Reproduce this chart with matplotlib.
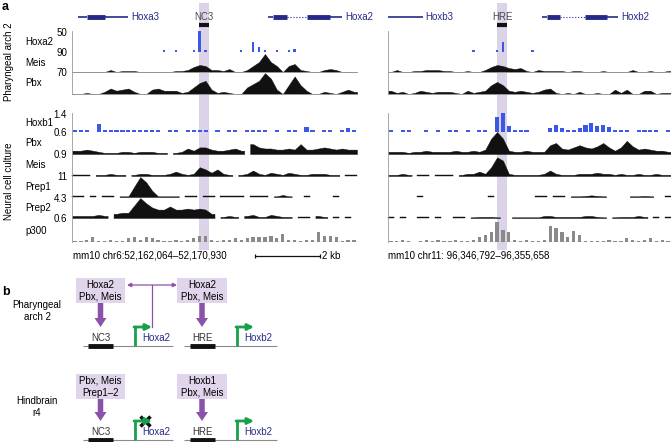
import numpy as np
import matplotlib.pyplot as plt
from matplotlib.patches import Rectangle, FancyArrow

plt.rcParams['font.family'] = ['Liberation Sans', 'DejaVu Sans']
plt.rcParams['font.size'] = 7

_ = None  # no data in this bin

# ---------------- data (48 bins per locus, signal in tenths of track height) ----
N_BINS = 48
region_bp = 8866

# pharyngeal arch 2, Hoxa2 locus (left) and Hoxb2 locus (right)
hoxa2_L = [_, _, _, _, _, _, _, _, _, _, _, _,
           _, _, _, 0.5, _, 0.5, _, _, 0.5, 10, 0.8, _,
           _, _, _, _, 0.5, _, 5, 2.5, 0.5, _, 0.5, _,
           0.5, 1.5, _, _, _, _, _, _, _, _, _, _]
hoxa2_R = [_, _, _, _, _, _, _, _, _, _, _, _,
           _, _, 0.5, _, _, _, 1, 5, _, _, _, _,
           0.3, _, _, _, _, _, _, _, _, _, _, _,
           _, _, _, _, _, _, _, _, _, _, _, _]
meis_pa_L = [0, 0, 0, 0, 0, 0, 1, 0, 0.5, 0.5, 0.5, 0,
             0, 0, 0, 0, 0, 0.5, 0.5, 1, 2.5, 3.5, 3, 1,
             1, 0.5, 1.5, 0, 0, 1, 3, 5, 9, 5, 3, 0,
             3, 4, 1, 0.5, 0, 0, 1, 1.5, 1, 0, 0, 0]
meis_pa_R = [0, 1, 0, 0, 0.5, 0.5, 1, 1, 1, 0.5, 0.5, 0,
             0, 0.5, 0, 0, 1, 2.5, 3.5, 3, 2, 1.5, 2, 0.5,
             0, 1, 0.5, 0.5, 0.5, 0.5, 0, 0.5, 0.5, 0, 0, 0,
             0.5, 0, 0, 0, 0, 1, 0, 0, 0.5, 0, 0, 0.5]
pbx_pa_L = [0, 0, 0.5, 0, 0, 1, 2.5, 1.5, 2, 2.5, 1, 0,
            0, 2, 2.5, 1.5, 1.5, 1.5, 0.5, 1, 3, 5, 6, 2,
            0.5, 1, 0.5, 0, 0, 3, 4.5, 6, 9.5, 7, 2, 0,
            4, 8, 4, 1.5, 0, 0, 1, 0.5, 0, 1, 2, 1]
pbx_pa_R = [1.5, 0.5, 1, 0, 0.5, 1.5, 1, 0.5, 1, 1, 1, 0.5,
            0, 1.5, 0.5, 1, 1.5, 4, 5.5, 4, 1.5, 1, 1.5, 1,
            0.5, 1, 2, 2.5, 0.5, 0, 0.5, 0, 1, 0, 0, 0.5,
            0, 0, 2, 0.5, 2, 0, 0, 1.5, 1.5, 0, 0.5, 0.5]

# neural cell culture
hoxb1_L = [0.5, 0.5, 0.5, _, 4, 1, 0.5, 0.5, 0.5, 0.3, 0.5, 0.5,
           1, 0.5, 0.5, _, 0.5, 0.5, _, 0.5, 0.5, 0.5, 0.5, _,
           0.5, _, 0.5, 0.5, _, 0.3, 0.5, 0.5, 1, _, 0.5, _,
           0.5, 0.5, _, 2.5, 0.5, _, 0.5, 0.5, _, 0.5, 2, 0.5]
hoxb1_R = [0.5, _, 1, 0.5, _, _, 0.5, _, 0.5, _, 0.5, 0.5,
           _, 0.5, _, 0.5, 0.5, _, 8, 10, 3, 0.5, 0.5, 0.5,
           _, _, _, 2, 3.5, 2, 0.5, 1, 2, 3.5, 4.5, 3,
           3.5, 2.5, 0.5, 0.5, 0.5, _, 0.5, 0.5, 0.5, 0.5, _, 0.5]
pbx_nc_L = [1.5, 1.5, 2, 1.5, 1, 0.5, 0.5, 0.5, 1, 1, 0.5, 1,
            1, 1, 0.5, 0.5, _, 0.5, 1, 2.5, 1.5, 3, 3, 2,
            1.5, 1.5, 2, 2.5, 1.5, _, 4.5, 3, 2.5, 2.5, 2, 2,
            2.5, 2, 4.5, 2, 2, 2.5, 3, 2.5, 2, 2.5, 2, 2]
pbx_nc_R = [1, 1, 1, 0.5, 1, 1, 1.5, 1, 1, 1, 1, 1.5,
            1, 1, 1.5, 1, 2, 7, 10, 7, 1.5, 1, 1, 1.5,
            1, 1, 1, 4, 5, 2.5, 2, 3, 4, 3, 2.5, 3.5,
            5, 3, 1.5, 3, 6, 3.5, 2, 2.5, 2, 1.5, 1.5, 1]
meis_nc_L = [0.5, 0.5, 0.5, _, 0.5, 0.5, 1, 0.5, 0.5, _, 0.5, 1,
             1, 0.5, 0.5, 0.5, 1, 2, 1, 0.5, 1, 4, 3, 1.5,
             3, 1, 0.5, _, 0.5, 1, 2.5, 1, 0.5, 1.5, 1, 0.5,
             1.5, 1, 0.5, 0.5, 1, 1, 1, 0.5, 0.5, _, 0.5, 0.5]
meis_nc_R = [0.5, 0.5, 1, 0.5, _, 0.5, 0.5, _, 0.5, 0.5, 0.5, _,
             0.5, 1, 1, 2, 1, 4, 8.5, 7, 1, 0.5, 0.5, 0.5,
             0.5, 0.5, 1, 2.5, 1, 0.5, 0.5, 0.5, 1, 1, 1, 1.5,
             1, 1, 0.5, 1, 0.5, 0.5, 1, 0.5, 0.5, 1, 0.5, 0.5]
prep1_L = [0.3, 0.3, _, 0.3, _, 0.3, 0.3, _, 0.3, 0.3, 5, 9.5,
           7, 3, 0.3, 0.3, 0.3, 0.3, _, 0.3, 0.3, _, 0.3, 0.3,
           _, 0.3, 0.3, 0.3, 0.3, _, 0.3, 0.3, 0.3, _, 0.3, 1,
           0.3, _, _, 0.3, _, _, _, _, 0.3, _, _, _]
prep1_R = [_, _, _, _, _, 0.3, _, _, _, _, _, _,
           _, _, _, _, _, 0.3, _, _, _, _, _, _,
           _, 0.3, 0.3, _, 0.3, 0.3, _, 0.3, 0.3, 0.5, 0.8, 0.5,
           0.3, _, _, _, _, 0.3, 0.3, 0.5, 0.3, _, _, 0.3]
prep2_L = [1, 1, 1, 1, 1.5, 1, _, 2, 2.5, 2.5, 6, 9.5,
           7, 5, 4, 4, 5.5, 4, 4, 4.5, 4, 4.5, 4, 2,
           _, 0.5, 1, 0.5, _, 1, 1.5, 0.5, 0.5, 1.5, 1, 0.5,
           0.5, _, 0.5, 0.5, _, 1, 0.5, _, 0.5, _, 0.5, _]
prep2_R = [0.3, _, 0.3, _, _, 0.3, 0.3, _, 0.3, _, _, 0.3,
           0.3, _, 0.3, 0.5, 0.5, 0.5, 0.3, _, _, 0.3, 0.3, 0.3,
           0.3, 0.3, 1, 1, 0.5, 0.5, 0.5, 0.5, 0.5, 1, 1, 0.5,
           0.3, _, 0.3, 0.5, 0.5, 0.5, 1, 0.5, _, 0.3, _, 0.3]
p300_L = [0.5, 0.5, 1, 2, 0.5, 0.3, 1, 0.5, 0.3, 1.5, 2, 1,
          2, 1.5, 1, 0.5, 0.3, 1, 0.5, 1, 1.5, 2.5, 2.5, 1,
          0.5, 1, 1, 1.5, 1, 1.5, 2, 2, 2, 2.5, 1.5, 3.5,
          1, 1, 0.5, 1, 1, 4, 2.5, 2.5, 2, 0.3, 1, 1]
p300_R = [0.5, 0.5, 1, 0.3, _, 0.5, 1, 0.5, 1, 0.5, 0.5, 1,
          0.5, 0.5, 1, 2, 3, 4, 8.5, 5, 4, 1, 0.5, 1,
          0.5, 0.5, 1, 6.5, 6, 4, 2, 4.5, 3, 0.5, 0.5, 0.5,
          0.5, 1, 0.5, 0.5, 1.5, 1, 0.5, 1, 1.5, 0.5, 1, 0.5]

# gene models and enhancers, in bins: (start, end, exons, name)
genes_L = [(1.0, 9.4, [(2.5, 5.6)], 'Hoxa3'),
           (33.0, 45.5, [(33.8, 36.2), (39.6, 43.4)], 'Hoxa2')]
genes_R = [(0.0, 5.9, [], 'Hoxb3'),
           (26.1, 39.0, [(26.9, 29.2), (33.4, 37.1)], 'Hoxb2')]
element_L = (21.4, 23.1, 'NC3')
element_R = (18.5, 20.2, 'HRE')
coords_L = 'mm10 chr6:52,162,064\u201352,170,930'
coords_R = 'mm10 chr11: 96,346,792\u201396,355,658'

# ---------------- styles ----------------
BLUE = '#3b57e8'
BLACK = '#111111'
GREY = '#8a8a8a'
NAVY = '#262a86'
BAND = '#ddd3e8'
BOX = '#e0d5ea'
PURPLE = '#8c52a8'
GREEN = '#17a04a'

W, H = 671, 442
fig = plt.figure(figsize=(W / 100, H / 100), dpi=100)


def px_axes(x0, y0, x1, y1):
    ax = fig.add_axes([x0 / W, 1 - y1 / H, (x1 - x0) / W, (y1 - y0) / H])
    ax.set_facecolor('none')
    return ax


def runs(vals):
    # split the bins into stretches of consecutive bins that have data
    out, cur = [], []
    for i, v in enumerate(vals):
        if v is None:
            if cur:
                out.append(cur)
            cur = []
        else:
            cur.append(i)
    if cur:
        out.append(cur)
    return out


canvas = px_axes(0, 0, W, H)
canvas.set_xlim(0, W)
canvas.set_ylim(H, 0)
canvas.axis('off')

panels = [(72, 357, 'L'), (388, 671, 'R')]
elements = {'L': element_L, 'R': element_R}
genes = {'L': genes_L, 'R': genes_R}

# highlight band behind every track
for x0, x1, side in panels:
    bax = px_axes(x0, 3, x1, 250)
    bax.set_xlim(0, N_BINS)
    bax.axvspan(elements[side][0], elements[side][1], color=BAND, lw=0)
    bax.axis('off')

# gene track
for x0, x1, side in panels:
    gax = px_axes(x0, 8, x1, 30)
    gax.set_xlim(0, N_BINS)
    gax.set_ylim(30, 8)
    gax.axis('off')
    for start, end, exons, name in genes[side]:
        edges = [start] + [e for ex in exons for e in ex] + [end]
        for k in range(0, len(edges) - 1):
            a, b = edges[k], edges[k + 1]
            if k % 2 == 0:
                ls, lw = '-', 1.2
                if 0 < k < len(edges) - 2:
                    ls, lw = ':', 0.8
                gax.plot([a, b], [17, 17], color=NAVY, lw=lw, ls=ls,
                         solid_capstyle='butt')
            else:
                gax.plot([a, b], [17, 17], color=NAVY, lw=3.5,
                         solid_capstyle='butt')
        gax.text(end + 0.5, 17, name, color=NAVY, ha='left', va='center')
    es, ee, ename = elements[side]
    gax.plot([es, ee], [25, 25], color=BLACK, lw=3, solid_capstyle='butt')
    gax.text((es + ee) / 2, 17, ename, color='#4a4a4a', ha='center', va='center')

# signal tracks: name, max label, top, base, left, right, colour, style, baseline
tracks = [
    ('Hoxa2', '50', 31, 52, hoxa2_L, hoxa2_R, BLUE, 0.4, 'none'),
    ('Meis', '90', 52, 72, meis_pa_L, meis_pa_R, BLACK, 'fill', 'axis'),
    ('Pbx', '70', 72, 94, pbx_pa_L, pbx_pa_R, BLACK, 'fill', 'axis'),
    ('Hoxb1', '1.4', 113, 132, hoxb1_L, hoxb1_R, BLUE, 0.7, 'none'),
    ('Pbx', '0.6', 132, 154, pbx_nc_L, pbx_nc_R, BLACK, 'fill', 'seg'),
    ('Meis', '0.9', 154, 176, meis_nc_L, meis_nc_R, BLACK, 'fill', 'seg'),
    ('Prep1', '11', 176, 197, prep1_L, prep1_R, BLACK, 'fill', 'seg'),
    ('Prep2', '4.3', 197, 218, prep2_L, prep2_R, BLACK, 'fill', 'seg'),
    ('p300', '0.6', 218, 242, p300_L, p300_R, GREY, 0.55, 'seg'),
]

for name, top_lbl, top, base, vals_L, vals_R, color, style, mode in tracks:
    for (x0, x1, side), vals in zip(panels, [vals_L, vals_R]):
        ax = px_axes(x0, top, x1, base)
        ax.set_xlim(0, N_BINS)
        ax.set_ylim(0, 10)
        ax.set_xticks([])
        ax.set_yticks([])
        for s in ['top', 'right', 'bottom']:
            ax.spines[s].set_visible(False)
        ax.spines['left'].set_color('#9a9a9a')
        ax.spines['left'].set_linewidth(0.6)
        if mode == 'axis':
            ax.spines['bottom'].set_visible(True)
            ax.spines['bottom'].set_color('#9a9a9a')
            ax.spines['bottom'].set_linewidth(0.7)
        if style == 'fill':
            for run in runs(vals):
                xs = [run[0]] + [i + 0.5 for i in run] + [run[-1] + 1]
                ys = [vals[run[0]]] + [vals[i] for i in run] + [vals[run[-1]]]
                ax.fill_between(xs, 0, ys, color=color, lw=0.3, ec=color,
                                clip_on=False)
                if mode == 'seg':
                    ax.hlines(0, run[0], run[-1] + 1, color=color, lw=1.0)
        else:
            bw = style
            idx = [i for i, v in enumerate(vals) if v is not None]
            ax.bar([i + (1 - bw) / 2 for i in idx], [vals[i] for i in idx],
                   width=bw, align='edge', color=color, lw=0, clip_on=False)
            if mode == 'seg':
                for run in runs(vals):
                    ax.hlines(0, run[0], run[-1] + 1, color=color, lw=0.9)
            else:
                for i in idx:
                    ax.hlines(0.5, i + (1 - bw) / 2, i + (1 + bw) / 2,
                              color=color, lw=1.4)
    canvas.text(25, (top + base) / 2 + 0.5, name, ha='left', va='center')
    canvas.text(67, top + 1.5, top_lbl, ha='right', va='center')

canvas.text(9, 62, 'Pharyngeal arch 2', rotation=90, ha='center', va='center')
canvas.text(9, 181, 'Neural cell culture', rotation=90, ha='center', va='center')
canvas.text(2, 7, 'a', fontsize=9, fontweight='bold', ha='left', va='center')

# coordinates and scale bar
canvas.text(73, 256, coords_L, ha='left', va='center')
canvas.text(388, 256, coords_R, ha='left', va='center')
sax = px_axes(72, 250, 357, 262)
sax.set_xlim(0, region_bp)
sax.set_ylim(-1, 1)
sax.axis('off')
sax.hlines(0, 5700, 7700, color=BLACK, lw=0.9)
sax.vlines([5700, 7700], -0.4, 0.4, color=BLACK, lw=0.9)
sax.text(7780, 0, '2 kb', ha='left', va='center')

# ---------------- panel b ----------------
canvas.text(2, 292, 'b', fontsize=9, fontweight='bold', ha='left', va='center')

rows = [
    dict(label='Pharyngeal\narch 2', box_top=278, base=346,
         boxes=['Hoxa2\nPbx, Meis', 'Hoxa2\nPbx, Meis'], blocked=False),
    dict(label='Hindbrain\nr4', box_top=374, base=440,
         boxes=['Pbx, Meis\nPrep1\u20132', 'Hoxb1\nPbx, Meis'], blocked=True),
]
units = [(76, 125, 83, 173, 88, 113, 'NC3', 135, 'Hoxa2'),
         (177, 227, 184, 277, 190, 215, 'HRE', 237, 'Hoxb2')]

for row_i, row in enumerate(rows):
    bt, base = row['box_top'], row['base']
    tip = base - 19
    canvas.text(37, bt + 33, row['label'], ha='center', va='center',
                linespacing=1.3)
    for (bx0, bx1, lx0, lx1, ex0, ex1, ename, px, gname), txt in zip(units, row['boxes']):
        cx = (bx0 + bx1) / 2
        canvas.add_patch(Rectangle((bx0, bt), bx1 - bx0, 25, color=BOX, lw=0))
        canvas.text(cx, bt + 12.5, txt, ha='center', va='center', linespacing=1.25)
        canvas.add_patch(FancyArrow(cx, bt + 25, 0, tip - bt - 25, width=5.5,
                                    head_width=12, head_length=9,
                                    length_includes_head=True, color=PURPLE, lw=0))
        canvas.hlines(base, lx0, lx1, color='#8a8a8a', lw=0.8)
        canvas.hlines(base, ex0, ex1, color=BLACK, lw=3.5)
        canvas.text((ex0 + ex1) / 2, base - 8, ename, ha='center', va='center',
                    color='#333333')
        canvas.plot([px, px], [base, tip], color=GREEN, lw=2,
                    solid_capstyle='butt')
        canvas.annotate('', xy=(px + 17, tip), xytext=(px - 1, tip),
                        arrowprops=dict(arrowstyle='-|>', color=GREEN, lw=2,
                                        mutation_scale=9, shrinkA=0, shrinkB=0))
        canvas.text(px + 7, base - 8, gname, ha='left', va='center', color=NAVY)
    if row_i == 0:
        canvas.annotate('', xy=(127, bt + 7), xytext=(177, bt + 7),
                        arrowprops=dict(arrowstyle='<|-|>', color=PURPLE, lw=0.9,
                                        mutation_scale=6, shrinkA=0, shrinkB=0))
        canvas.plot([152, 152], [bt + 7, tip], color=PURPLE, lw=0.9)
    if row['blocked']:
        canvas.plot(145, tip, marker='x', ms=7, mew=2.5, color=BLACK)

fig.savefig('out.png', dpi=100)
